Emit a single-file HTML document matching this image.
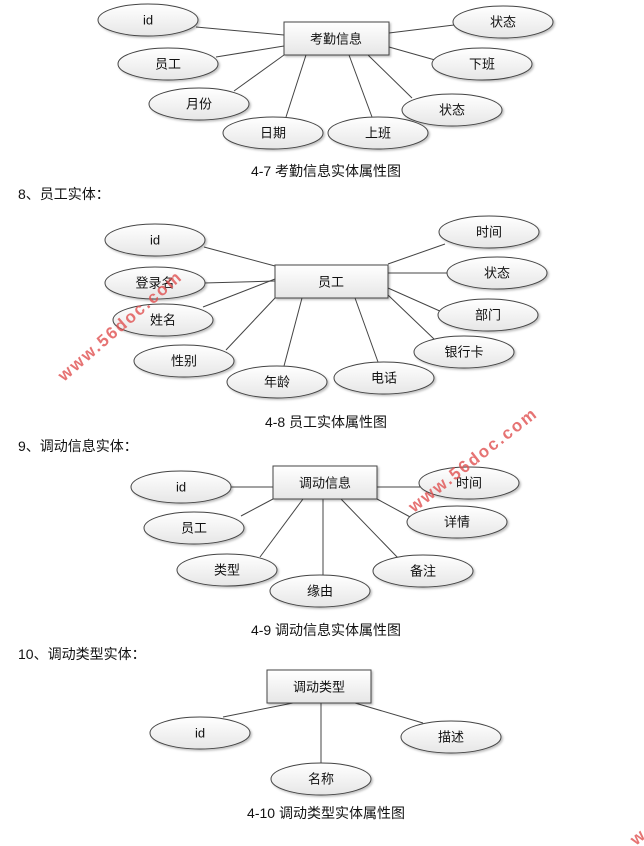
<!DOCTYPE html>
<html><head><meta charset="utf-8"><style>
body{margin:0;background:#fff;}
svg{display:block;}
</style></head><body>
<svg width="644" height="846" viewBox="0 0 644 846" xmlns="http://www.w3.org/2000/svg" font-family="'Liberation Sans','Noto Sans CJK SC',sans-serif">
<defs>
<linearGradient id="g" x1="0" y1="0" x2="0" y2="1"><stop offset="0" stop-color="#ffffff"/><stop offset="1" stop-color="#e6e6e6"/></linearGradient>
<filter id="sh" x="-20%" y="-20%" width="150%" height="160%"><feDropShadow dx="1.5" dy="1.5" stdDeviation="1" flood-color="#000" flood-opacity="0.25"/></filter>
</defs>
<g stroke="#444" stroke-width="1" fill="none">
<!-- D1 lines -->
<line x1="196" y1="27" x2="284" y2="35"/>
<line x1="216" y1="57" x2="284" y2="46"/>
<line x1="234" y1="91" x2="284" y2="55"/>
<line x1="286" y1="117" x2="306" y2="55"/>
<line x1="372" y1="117" x2="349" y2="55"/>
<line x1="412" y1="98" x2="368" y2="55"/>
<line x1="435" y1="60" x2="389" y2="47"/>
<line x1="454" y1="25" x2="389" y2="33"/>
<!-- D2 lines -->
<line x1="204" y1="247" x2="275" y2="266"/>
<line x1="204" y1="283" x2="275" y2="281"/>
<line x1="203" y1="307" x2="275" y2="279"/>
<line x1="226" y1="350" x2="275" y2="298"/>
<line x1="284" y1="366" x2="302" y2="298"/>
<line x1="378" y1="362" x2="355" y2="298"/>
<line x1="434" y1="339" x2="388" y2="295"/>
<line x1="442" y1="312" x2="388" y2="288"/>
<line x1="448" y1="273" x2="388" y2="273"/>
<line x1="445" y1="244" x2="388" y2="264"/>
<!-- D3 lines -->
<line x1="231" y1="487" x2="273" y2="487"/>
<line x1="241" y1="516" x2="273" y2="499"/>
<line x1="260" y1="557" x2="303" y2="499"/>
<line x1="323" y1="575" x2="323" y2="499"/>
<line x1="399" y1="559" x2="341" y2="499"/>
<line x1="412" y1="518" x2="377" y2="499"/>
<line x1="420" y1="487" x2="377" y2="487"/>
<!-- D4 lines -->
<line x1="223" y1="717" x2="293" y2="703"/>
<line x1="321" y1="763" x2="321" y2="703"/>
<line x1="423" y1="723" x2="355" y2="703"/>
</g>
<g fill="url(#g)" stroke="#444" stroke-width="1" filter="url(#sh)">
<rect x="284" y="22" width="105" height="33"/>
<rect x="275" y="265" width="113" height="33"/>
<rect x="273" y="466" width="104" height="33"/>
<rect x="267" y="670" width="104" height="33"/>
<ellipse cx="148" cy="20" rx="50" ry="16"/>
<ellipse cx="168" cy="64" rx="50" ry="16"/>
<ellipse cx="199" cy="104" rx="50" ry="16"/>
<ellipse cx="273" cy="133" rx="50" ry="16"/>
<ellipse cx="378" cy="133" rx="50" ry="16"/>
<ellipse cx="452" cy="110" rx="50" ry="16"/>
<ellipse cx="482" cy="64" rx="50" ry="16"/>
<ellipse cx="503" cy="22" rx="50" ry="16"/>
<ellipse cx="155" cy="240" rx="50" ry="16"/>
<ellipse cx="155" cy="283" rx="50" ry="16"/>
<ellipse cx="163" cy="320" rx="50" ry="16"/>
<ellipse cx="184" cy="361" rx="50" ry="16"/>
<ellipse cx="277" cy="382" rx="50" ry="16"/>
<ellipse cx="384" cy="378" rx="50" ry="16"/>
<ellipse cx="464" cy="352" rx="50" ry="16"/>
<ellipse cx="488" cy="315" rx="50" ry="16"/>
<ellipse cx="497" cy="273" rx="50" ry="16"/>
<ellipse cx="489" cy="232" rx="50" ry="16"/>
<ellipse cx="181" cy="487" rx="50" ry="16"/>
<ellipse cx="194" cy="528" rx="50" ry="16"/>
<ellipse cx="227" cy="570" rx="50" ry="16"/>
<ellipse cx="320" cy="591" rx="50" ry="16"/>
<ellipse cx="423" cy="571" rx="50" ry="16"/>
<ellipse cx="457" cy="522" rx="50" ry="16"/>
<ellipse cx="469" cy="483" rx="50" ry="16"/>
<ellipse cx="200" cy="733" rx="50" ry="16"/>
<ellipse cx="321" cy="779" rx="50" ry="16"/>
<ellipse cx="451" cy="737" rx="50" ry="16"/>
</g>
<g font-size="13" fill="#111" text-anchor="middle" dominant-baseline="central">
<text x="336" y="39">考勤信息</text>
<text x="148" y="20">id</text><text x="168" y="64">员工</text><text x="199" y="104">月份</text>
<text x="273" y="133">日期</text><text x="378" y="133">上班</text><text x="452" y="110">状态</text>
<text x="482" y="64">下班</text><text x="503" y="22">状态</text>
<text x="331" y="282">员工</text>
<text x="155" y="240">id</text><text x="155" y="283">登录名</text><text x="163" y="320">姓名</text>
<text x="184" y="361">性别</text><text x="277" y="382">年龄</text><text x="384" y="378">电话</text>
<text x="464" y="352">银行卡</text><text x="488" y="315">部门</text><text x="497" y="273">状态</text><text x="489" y="232">时间</text>
<text x="325" y="483">调动信息</text>
<text x="181" y="487">id</text><text x="194" y="528">员工</text><text x="227" y="570">类型</text>
<text x="320" y="591">缘由</text><text x="423" y="571">备注</text><text x="457" y="522">详情</text><text x="469" y="483">时间</text>
<text x="319" y="687">调动类型</text>
<text x="200" y="733">id</text><text x="321" y="779">名称</text><text x="451" y="737">描述</text>
</g>
<g font-size="14" fill="#111">
<text x="326" y="176" text-anchor="middle">4-7 考勤信息实体属性图</text>
<text x="18" y="199">8、员工实体：</text>
<text x="326" y="427" text-anchor="middle">4-8 员工实体属性图</text>
<text x="18" y="451">9、调动信息实体：</text>
<text x="326" y="635" text-anchor="middle">4-9 调动信息实体属性图</text>
<text x="18" y="659">10、调动类型实体：</text>
<text x="326" y="818" text-anchor="middle">4-10 调动类型实体属性图</text>
</g>
<g font-size="17" font-weight="bold" fill="#e05050" fill-opacity="0.8" letter-spacing="2">
<text transform="translate(64,382) rotate(-41)">www.56doc.com</text>
<text transform="translate(414,513) rotate(-38)">www.56doc.com</text>
<text transform="translate(636,846) rotate(-40)">w</text>
</g>
</svg>
</body></html>
